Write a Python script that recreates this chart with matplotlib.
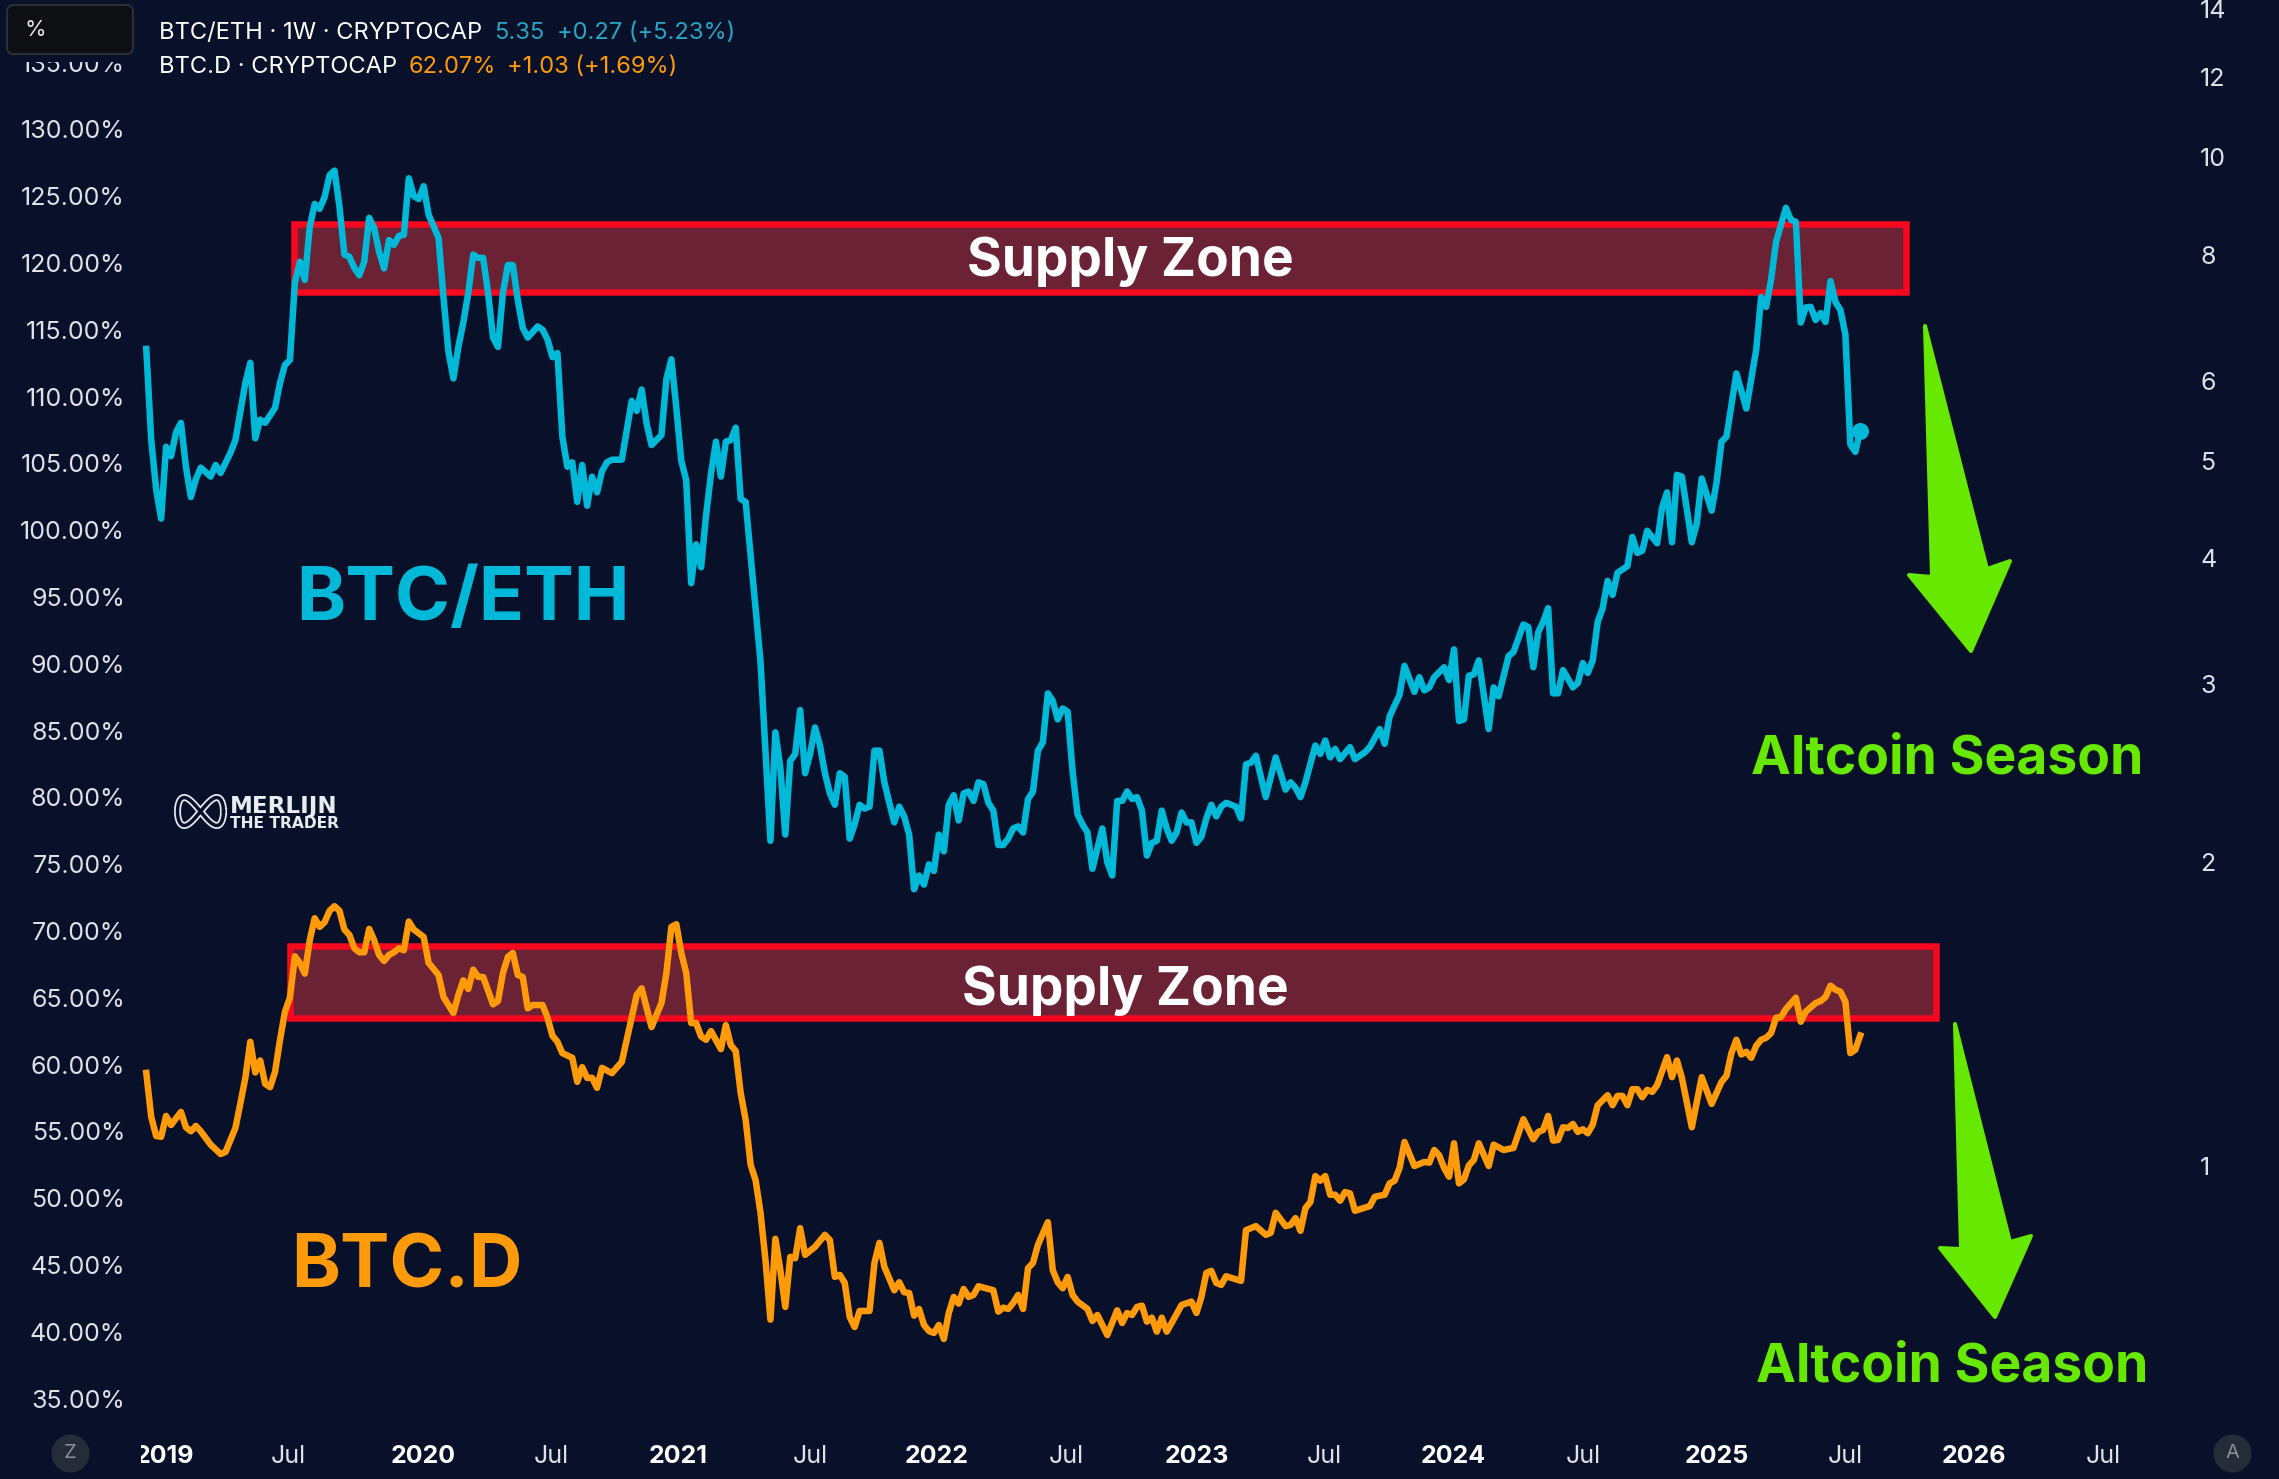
import matplotlib
matplotlib.use('Agg')
import matplotlib.pyplot as plt
import numpy as np
from matplotlib.patches import Rectangle, Polygon, FancyBboxPatch
from matplotlib.lines import Line2D
from matplotlib.transforms import Bbox, ScaledTranslation

W, H = 2279, 1479
BG = '#081129'
BLUE = '#00b9d8'
ORANGE = '#ff9a0a'
GREEN = '#66e800'
UI_FONT = ['Inter', 'Roboto', 'DejaVu Sans']
BIG_FONT = ['Inter', 'Liberation Sans', 'DejaVu Sans']

# weeks counted from the first candle
first_week = np.datetime64('2018-12-06')

btc_eth_weeks = [
    0,1,2,3,4,5,6,7,8,9,10,11,13,14,15,17,18,20,21,22,
    23,24,26,27,28,29,30,31,32,33,34,35,36,37,38,39,40,41,42,43,
    44,45,46,47,48,49,50,51,52,53,54,55,56,57,59,60,61,62,63,64,
    65,66,67,68,69,70,71,72,73,74,75,76,77,79,80,81,82,83,84,85,
    86,87,88,89,90,91,92,93,94,96,98,99,100,101,102,104,105,106,107,108,
    109,110,111,112,113,114,115,116,117,118,119,120,121,122,123,124,125,126,127,128,
    129,130,131,132,133,134,135,136,137,138,139,140,141,142,143,144,145,146,147,148,
    149,150,151,152,153,154,155,156,157,158,159,160,161,162,163,164,165,166,167,168,
    169,170,171,172,173,174,175,176,177,178,179,180,181,182,183,184,185,186,187,188,
    189,190,191,193,194,195,196,197,198,199,200,201,202,203,204,205,206,207,208,209,
    210,211,212,213,214,215,216,217,218,220,221,222,223,224,225,226,228,230,231,232,
    233,234,236,237,238,239,240,241,243,244,246,247,249,250,251,253,254,256,257,258,
    259,260,262,263,264,265,266,267,268,269,271,272,273,275,276,278,279,280,281,282,
    283,284,285,286,288,289,290,291,292,293,294,295,296,297,299,300,301,302,303,305,
    306,307,308,309,310,312,313,314,316,317,318,319,321,323,325,326,327,328,329,331,
    332,333,334,335,336,337,338,339,340,341,342,343,344,345,346,
]
btc_eth_values = [
    6.45,5.24,4.68,4.38,5.16,5.05,5.33,5.45,4.93,4.60,4.79,4.92,4.82,4.95,4.86,5.09,5.24,5.97,6.25,5.26,
    5.49,5.45,5.64,5.97,6.22,6.29,7.50,7.87,7.55,8.52,8.98,8.88,9.12,9.59,9.69,8.92,8.00,7.96,7.76,7.63,
    7.87,8.70,8.50,8.05,7.75,8.27,8.18,8.35,8.37,9.52,9.14,9.08,9.35,8.76,8.31,7.26,6.41,6.03,6.48,6.85,
    7.33,8.00,7.94,7.94,7.33,6.62,6.48,7.33,7.81,7.81,7.21,6.77,6.62,6.79,6.74,6.59,6.33,6.39,5.28,4.93,
    4.98,4.55,4.95,4.51,4.82,4.65,4.88,4.98,5.01,5.01,5.73,5.60,5.88,5.44,5.18,5.30,6.02,6.30,5.64,5.00,
    4.78,3.78,4.13,3.92,4.41,4.85,5.22,4.82,5.22,5.24,5.39,4.58,4.55,4.03,3.57,3.16,2.58,2.10,2.69,2.48,
    2.13,2.52,2.56,2.83,2.45,2.56,2.72,2.61,2.45,2.34,2.28,2.45,2.43,2.11,2.18,2.28,2.26,2.27,2.58,2.58,
    2.40,2.29,2.19,2.27,2.22,2.13,1.88,1.94,1.90,1.99,1.96,2.13,2.05,2.28,2.33,2.20,2.34,2.35,2.30,2.40,
    2.39,2.29,2.25,2.08,2.08,2.11,2.16,2.17,2.14,2.31,2.35,2.58,2.63,2.94,2.89,2.77,2.84,2.82,2.46,2.23,
    2.18,2.14,1.97,2.16,2.00,1.94,2.30,2.30,2.35,2.31,2.32,2.25,2.03,2.09,2.10,2.25,2.16,2.10,2.14,2.24,
    2.19,2.19,2.09,2.12,2.21,2.28,2.22,2.27,2.29,2.27,2.21,2.50,2.51,2.55,2.43,2.32,2.54,2.36,2.40,2.37,
    2.32,2.40,2.61,2.56,2.64,2.54,2.59,2.53,2.60,2.53,2.57,2.60,2.71,2.62,2.79,2.93,3.13,2.95,3.05,2.96,
    2.98,3.05,3.12,3.03,3.25,2.76,2.77,3.06,3.07,3.17,2.71,2.98,2.92,3.20,3.23,3.44,3.42,3.12,3.38,3.46,
    3.57,2.94,2.94,3.10,2.98,3.01,3.15,3.08,3.17,3.46,3.57,3.80,3.68,3.87,3.93,4.20,4.05,4.07,4.26,4.14,
    4.49,4.65,4.15,4.84,4.82,4.15,4.33,4.80,4.46,4.76,5.22,5.28,6.10,5.63,6.44,7.26,7.10,7.55,8.23,8.90,
    8.66,8.62,6.85,7.09,7.10,6.89,7.00,6.86,7.53,7.18,7.05,6.67,5.19,5.10,5.35,
]

btc_d_weeks = [
    0,1,2,3,4,5,7,8,9,10,11,13,15,16,18,19,20,21,22,23,
    24,25,26,27,28,29,30,31,32,33,34,35,36,37,38,39,40,41,42,43,
    44,45,46,47,48,49,50,51,52,53,54,56,57,59,60,62,63,64,65,66,
    67,68,70,71,72,73,74,75,76,77,78,80,81,82,83,84,86,87,88,89,
    90,91,92,94,96,99,100,102,104,105,106,107,108,109,110,111,112,113,114,116,
    117,118,119,120,121,122,123,124,125,126,127,128,129,130,131,132,133,135,137,138,
    139,140,141,142,143,144,146,147,148,149,151,152,153,154,155,156,157,158,159,160,
    161,162,163,164,165,166,167,168,171,172,173,174,175,176,177,178,179,180,182,183,
    184,185,186,187,188,190,191,192,194,196,197,198,199,200,201,202,203,204,205,206,
    207,209,211,212,213,214,215,216,217,218,221,222,224,226,227,228,230,231,232,233,
    234,235,236,237,238,239,240,241,242,243,244,247,248,250,251,252,253,254,256,258,
    259,260,261,262,263,264,265,266,267,268,269,271,272,274,276,278,280,281,282,283,
    284,285,286,287,288,289,290,291,292,293,295,296,297,298,299,300,301,302,303,304,
    305,307,308,309,310,312,314,316,318,319,320,321,322,323,324,325,326,327,328,329,
    330,331,333,334,335,337,338,339,340,341,342,343,344,345,346,
]
btc_d_values = [
    59.27,55.97,54.55,54.48,56.05,55.37,56.35,55.2,54.9,55.3,54.9,53.9,53.2,53.35,55.15,57.0,58.9,61.6,59.3,60.2,
    58.45,58.2,59.35,61.75,63.85,64.9,68.0,67.5,66.7,69.2,70.85,70.2,70.55,71.4,71.75,71.4,70.0,69.6,68.6,68.3,
    68.3,70.05,69.2,68.1,67.65,68.1,68.3,68.6,68.45,70.6,70.0,69.45,67.5,66.6,64.95,63.75,65.1,66.2,65.55,67.0,
    66.45,66.45,64.4,64.65,66.75,67.95,68.25,66.6,66.45,64.1,64.35,64.35,63.4,62.05,61.6,60.75,60.4,58.6,59.7,58.9,
    58.9,58.15,59.65,59.25,60.1,65.1,65.6,62.7,64.5,66.75,70.2,70.4,68.25,66.75,63.0,63.0,62.0,61.75,62.4,61.05,
    62.85,61.35,60.9,57.75,55.75,52.4,51.25,48.8,45.25,40.8,46.85,44.5,41.75,45.5,45.4,47.65,45.65,46.25,47.15,46.75,
    44.0,44.15,43.55,41.0,40.25,41.45,41.45,45.05,46.55,44.75,43.0,43.6,42.85,42.8,41.1,41.6,40.4,39.95,39.8,40.4,
    39.35,41.3,42.5,42.0,43.1,42.5,42.65,43.3,43.0,41.4,41.7,41.6,42.05,42.65,41.6,44.65,45.05,46.4,48.1,44.5,
    43.6,43.15,44.0,42.65,42.15,41.6,40.7,41.15,39.65,41.5,40.55,41.3,41.15,41.75,41.85,40.65,40.95,39.9,40.95,39.9,
    40.55,41.9,42.15,41.3,42.5,44.3,44.45,43.55,43.4,44.05,43.7,47.5,47.8,47.15,47.3,48.8,47.8,47.9,48.4,47.45,
    49.15,49.6,51.55,51.2,51.55,50.15,50.15,49.7,50.35,50.25,48.95,49.3,50.0,50.15,51.0,51.2,52.15,54.1,52.3,52.6,
    52.55,53.5,53.1,52.15,51.5,54.0,51.0,51.3,52.35,52.75,54.0,52.3,53.9,53.5,53.65,55.8,54.3,54.85,55.0,56.05,
    54.2,54.25,55.2,55.15,55.45,54.85,55.05,54.75,55.4,56.85,57.6,56.85,57.55,57.55,56.85,58.05,58.05,57.45,58.0,57.85,
    58.35,60.45,58.95,60.2,58.9,55.2,58.95,56.95,58.6,59.05,60.75,61.75,60.65,60.85,60.4,61.3,61.75,61.9,62.25,63.4,
    63.45,64.05,64.9,63.1,63.85,64.5,64.65,64.95,65.8,65.5,65.35,64.6,60.75,61.0,62.07,
]

left_ticks = [35, 40, 45, 50, 55, 60, 65, 70, 75, 80, 85, 90, 95, 100, 105, 110, 115, 120, 125, 130, 135]
right_ticks = [1, 2, 3, 4, 5, 6, 8, 10, 12, 14]
# tick dates sit on the weekly bars, not on the exact 1st of the month
x_tick_dates = ['2019-01-01', '2019-06-25', '2020-01-01', '2020-07-01', '2020-12-27', '2021-07-01',
                '2021-12-27', '2022-06-28', '2022-12-30', '2023-06-28', '2023-12-27', '2024-06-28',
                '2025-01-02', '2025-07-03', '2026-01-01', '2026-07-03']
x_tick_labels = ['2019', 'Jul', '2020', 'Jul', '2021', 'Jul', '2022', 'Jul',
                 '2023', 'Jul', '2024', 'Jul', '2025', 'Jul', '2026', 'Jul']


# 圖上標註用像素座標 (原點在左上)
def fx(px):
    return px / W


def fy(py):
    return 1 - py / H


def pts(px):
    return px * 0.72


def dates_of(weeks):
    return first_week + np.array(weeks) * np.timedelta64(7, 'D')


fig = plt.figure(figsize=(W / 100, H / 100), dpi=100, facecolor=BG)

# 軸範圍
ax_left, ax_right, ax_top, ax_bottom = 130, 2190, 0, 1430
ax = fig.add_axes([fx(ax_left), fy(ax_bottom), (ax_right - ax_left) / W, (ax_bottom - ax_top) / H])
ax.set_facecolor(BG)
ax2 = ax.twinx()

ax.set_xlim(np.datetime64('2018-11-13'), np.datetime64('2026-11-02'))
ax.set_ylim(32.54, 139.58)
ax2.set_yscale('log')
ax2.set_ylim(0.5475, 14.30)

for a in (ax, ax2):
    for s in a.spines.values():
        s.set_visible(False)

# 供給區
for x0, y0, x1, y1 in [(294, 224, 1906, 292), (289.5, 946, 1936, 1017.5)]:
    ax.add_patch(Rectangle((fx(x0), fy(y1)), (x1 - x0) / W, (y1 - y0) / H, transform=fig.transFigure,
                           facecolor='#6b2235', edgecolor='#f6081f', lw=pts(6.5), joinstyle='miter',
                           zorder=1, clip_on=False))

# 兩條線
ax.plot(dates_of(btc_d_weeks), btc_d_values, color=ORANGE, lw=pts(6.5), solid_joinstyle='round', zorder=3)
ax2.plot(dates_of(btc_eth_weeks), btc_eth_values, color=BLUE, lw=pts(6.5), solid_joinstyle='round', zorder=3)
ax2.plot(dates_of(btc_eth_weeks[-1:]), btc_eth_values[-1:], 'o', color=BLUE, ms=pts(17), mew=0, zorder=4)

# 刻度
ax.set_yticks(left_ticks)
ax.set_yticklabels(['%.2f%%' % t for t in left_ticks], fontfamily=UI_FONT, fontsize=pts(25), color='#dfe1e6')
ax.tick_params(axis='y', length=0, pad=pts(5))
nudge = ScaledTranslation(0, -1.5 / 100, fig.dpi_scale_trans)
for lab in ax.get_yticklabels():
    lab.set_transform(lab.get_transform() + nudge)
ax2.set_yticks(right_ticks)
ax2.set_yticklabels([str(t) for t in right_ticks], fontfamily=UI_FONT, fontsize=pts(25), color='#dfe1e6')
ax2.minorticks_off()
ax2.tick_params(axis='y', length=0, pad=pts(10))

ax.set_xticks(np.array(x_tick_dates, dtype='datetime64[D]'))
ax.set_xticklabels(x_tick_labels, fontfamily=UI_FONT, fontsize=pts(25))
ax.tick_params(axis='x', length=0, pad=pts(15))
for lab in ax.get_xticklabels():
    if lab.get_text() == 'Jul':
        lab.set_color('#dfe1e6')
    else:
        lab.set_color('white')
        lab.set_fontweight('bold')

# 2019 的左邊被切掉
first_label = ax.get_xticklabels()[0]
first_label.set_clip_on(True)
first_label.set_clip_box(Bbox([[141, 0], [W, H]]))

# 135.00% 只露出下半
fig.add_artist(Rectangle((0, fy(62)), 136 / W, 62 / H, transform=fig.transFigure, facecolor=BG, edgecolor='none'))

# 左上角小框
fig.add_artist(FancyBboxPatch((fx(7), fy(54)), 126 / W, 49 / H, transform=fig.transFigure,
                              boxstyle='round,pad=0,rounding_size=0.003', mutation_aspect=W / H,
                              facecolor='#0e0f12', edgecolor='#2b2e33', lw=1.5))
fig.text(fx(35), fy(30), '%', family=UI_FONT, fontsize=pts(22), color='#e6e6e6', ha='center', va='center')

# 圖例
legend_rows = [
    (33, [(159, 'BTC/ETH · 1W · CRYPTOCAP', 'white'), (494, '5.35', '#26a5c4'), (557, '+0.27 (+5.23%)', '#26a5c4')]),
    (67, [(159, 'BTC.D · CRYPTOCAP', 'white'), (409, '62.07%', ORANGE), (507, '+1.03 (+1.69%)', ORANGE)]),
]
for y, row in legend_rows:
    for x, s, c in row:
        fig.text(fx(x), fy(y), s, family=UI_FONT, fontsize=pts(23.7), color=c, ha='left', va='center')

# 大字
fig.text(fx(296), fy(600), 'BTC/ETH', family=BIG_FONT, fontweight='bold', fontsize=pts(74.5), color=BLUE, va='center')
fig.text(fx(291), fy(1268), 'BTC.D', family=BIG_FONT, fontweight='bold', fontsize=pts(74), color=ORANGE, va='center')
fig.text(fx(1130), fy(262), 'Supply Zone', family=BIG_FONT, fontweight='bold', fontsize=pts(53.2), color='white', ha='center', va='center')
fig.text(fx(1125), fy(991), 'Supply Zone', family=BIG_FONT, fontweight='bold', fontsize=pts(53.2), color='white', ha='center', va='center')
fig.text(fx(1947), fy(760), 'Altcoin Season', family=BIG_FONT, fontweight='bold', fontsize=pts(53.4), color=GREEN, ha='center', va='center')
fig.text(fx(1952), fy(1368), 'Altcoin Season', family=BIG_FONT, fontweight='bold', fontsize=pts(53.4), color=GREEN, ha='center', va='center')

# 綠色箭頭
arrow_shapes = [
    [(1925, 326), (1987, 569), (2010, 561), (1971, 651), (1909, 575), (1932, 577)],
    [(1955, 1024), (2010, 1242), (2031, 1236), (1995, 1317), (1940, 1248), (1961, 1249)],
]
for shape in arrow_shapes:
    fig.add_artist(Polygon([(fx(x), fy(y)) for x, y in shape], closed=True, transform=fig.transFigure,
                           facecolor=GREEN, edgecolor=GREEN, lw=pts(4), joinstyle='round'))

# 浮水印
t = np.linspace(0, 2 * np.pi, 200)
loop_x = 200.5 + 23 * np.cos(t)
loop_y = 811.5 - 14 * np.sin(2 * t)
fig.add_artist(Line2D(fx(loop_x), fy(loop_y), transform=fig.transFigure, color='#e8ebf0', lw=pts(7)))
fig.add_artist(Line2D(fx(loop_x), fy(loop_y), transform=fig.transFigure, color=BG, lw=pts(3.5)))
fig.text(fx(230), fy(807), 'MERLIJN', family='DejaVu Sans', fontweight='bold', fontsize=pts(23), color='#e8ebf0', va='center')
fig.text(fx(230), fy(823), 'THE TRADER', family='DejaVu Sans', fontweight='bold', fontsize=pts(15.5), color='#e8ebf0', va='center')

# 下方圓鈕
for x, s in [(70, 'Z'), (2232, 'A')]:
    fig.add_artist(Line2D([fx(x)], [fy(1453)], marker='o', ms=pts(38), mew=0, color='#262b38', transform=fig.transFigure))
    fig.text(fx(x), fy(1453), s, family=UI_FONT, fontsize=pts(20), color='#8b8e97', ha='center', va='center')

fig.savefig('out.png', dpi=100, facecolor=BG)
